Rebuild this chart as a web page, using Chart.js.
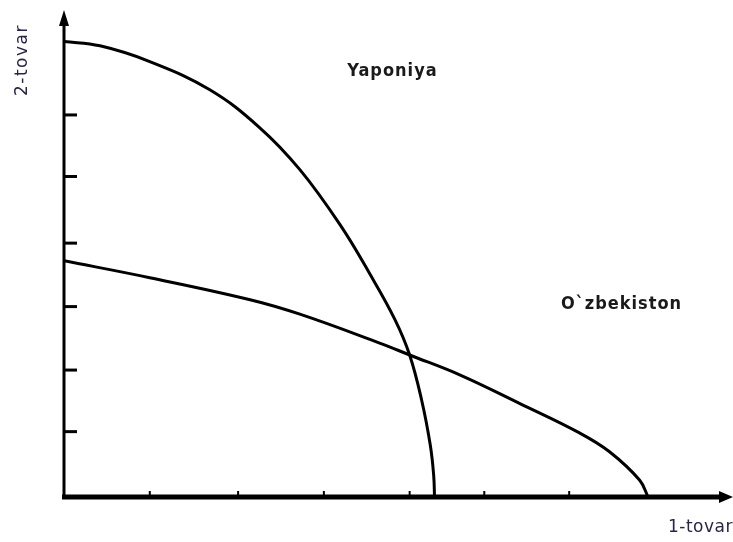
<!DOCTYPE html>
<html>
<head>
<meta charset="utf-8">
<script src="https://cdn.jsdelivr.net/npm/chart.js@4.4.1/dist/chart.umd.min.js"></script>
<style>
  html, body { margin: 0; padding: 0; background: #fff; }
  #wrap { width: 733px; height: 542px; }
</style>
</head>
<body>
<div id="wrap"><canvas id="ppfChart"></canvas></div>
<script>
// production possibility curves, x = 1-tovar, y = 2-tovar
const japanX = [0, 0.42, 1.00, 1.70, 2.28, 2.75, 3.22, 3.57, 3.86, 4.03, 4.17, 4.27, 4.31, 4.32];
const japanY = [7.25, 7.18, 6.93, 6.48, 5.88, 5.21, 4.33, 3.54, 2.82, 2.26, 1.54, 0.83, 0.35, 0];

const uzbekX = [0, 1.0, 2.17, 2.75, 3.68, 4.03, 4.62, 5.31, 6.01, 6.36, 6.71, 6.81];
const uzbekY = [3.76, 3.49, 3.14, 2.91, 2.45, 2.26, 1.94, 1.49, 1.02, 0.72, 0.27, 0];

const xTickMarks = [1.0, 2.03, 3.03, 4.03, 4.9, 5.89];
const yTickMarks = [1.04, 2.02, 3.03, 4.04, 5.10, 6.08];

const seriesNames = ['Yaponiya', 'O`zbekiston'];
const axisNames = ['1-tovar', '2-tovar'];

function toPoints(xs, ys) {
    return xs.map(function(x, i) { return { x: x, y: ys[i] }; });
}

const axesPlugin = {
    id: 'axesPlugin',
    afterDatasetsDraw: function(chart) {
        const ctx = chart.ctx;
        const xs = chart.scales.x;
        const ys = chart.scales.y;
        const x0 = xs.getPixelForValue(0);
        const y0 = ys.getPixelForValue(0);
        const top = chart.chartArea.top;
        const right = chart.width;

        ctx.save();
        ctx.strokeStyle = '#000';
        ctx.fillStyle = '#000';
        ctx.lineCap = 'butt';

        // y axis
        ctx.lineWidth = 3;
        ctx.beginPath();
        ctx.moveTo(x0, y0);
        ctx.lineTo(x0, top + 10);
        ctx.stroke();
        ctx.beginPath();
        ctx.moveTo(x0, top);
        ctx.lineTo(x0 - 5, top + 16);
        ctx.lineTo(x0 + 5, top + 16);
        ctx.closePath();
        ctx.fill();

        // x axis
        ctx.lineWidth = 5;
        ctx.beginPath();
        ctx.moveTo(x0 - 2, y0);
        ctx.lineTo(right - 10, y0);
        ctx.stroke();
        ctx.beginPath();
        ctx.moveTo(right, y0);
        ctx.lineTo(right - 14, y0 - 6);
        ctx.lineTo(right - 14, y0 + 6);
        ctx.closePath();
        ctx.fill();

        // tick marks inside the axes
        ctx.lineWidth = 2;
        xTickMarks.forEach(function(v) {
            const px = xs.getPixelForValue(v);
            ctx.beginPath();
            ctx.moveTo(px, y0);
            ctx.lineTo(px, y0 - 6);
            ctx.stroke();
        });
        ctx.lineWidth = 3;
        yTickMarks.forEach(function(v) {
            const py = ys.getPixelForValue(v);
            ctx.beginPath();
            ctx.moveTo(x0, py);
            ctx.lineTo(x0 + 13, py);
            ctx.stroke();
        });

        // curve names
        ctx.fillStyle = '#1a1a1a';
        ctx.font = 'bold 18px "DejaVu Sans Condensed", "Liberation Sans", sans-serif';
        ctx.letterSpacing = '1px';
        ctx.textAlign = 'center';
        ctx.textBaseline = 'middle';
        ctx.fillText(seriesNames[0], xs.getPixelForValue(3.83), ys.getPixelForValue(6.77));
        ctx.fillText(seriesNames[1], xs.getPixelForValue(6.5), ys.getPixelForValue(3.06));

        // axis names
        ctx.letterSpacing = '0.5px';
        ctx.font = '17px "DejaVu Sans", sans-serif';
        ctx.fillStyle = '#2b2447';
        ctx.textAlign = 'left';
        ctx.fillText(axisNames[0], 668, 528);
        ctx.letterSpacing = '1.5px';
        ctx.translate(23, 60);
        ctx.rotate(-Math.PI / 2);
        ctx.textAlign = 'center';
        ctx.fillText(axisNames[1], 0, 0);
        ctx.restore();
    }
};

document.addEventListener('DOMContentLoaded', function() {
    const ctx = document.getElementById('ppfChart').getContext('2d');
    new Chart(ctx, {
        type: 'scatter',
        data: {
            datasets: [{
                label: seriesNames[0],
                data: toPoints(japanX, japanY),
                showLine: true,
                borderColor: '#000',
                borderWidth: 3,
                pointRadius: 0,
                tension: 0.4
            }, {
                label: seriesNames[1],
                data: toPoints(uzbekX, uzbekY),
                showLine: true,
                borderColor: '#000',
                borderWidth: 3,
                pointRadius: 0,
                tension: 0.4
            }]
        },
        options: {
            responsive: true,
            maintainAspectRatio: false,
            animation: false,
            layout: { padding: { left: 64, top: 10, right: 6, bottom: 45 } },
            plugins: {
                legend: { display: false },
                tooltip: { enabled: false }
            },
            scales: {
                x: { type: 'linear', min: 0, max: 7.73, display: false },
                y: { type: 'linear', min: 0, max: 7.75, display: false }
            }
        },
        plugins: [axesPlugin]
    });
});
</script>
</body>
</html>
